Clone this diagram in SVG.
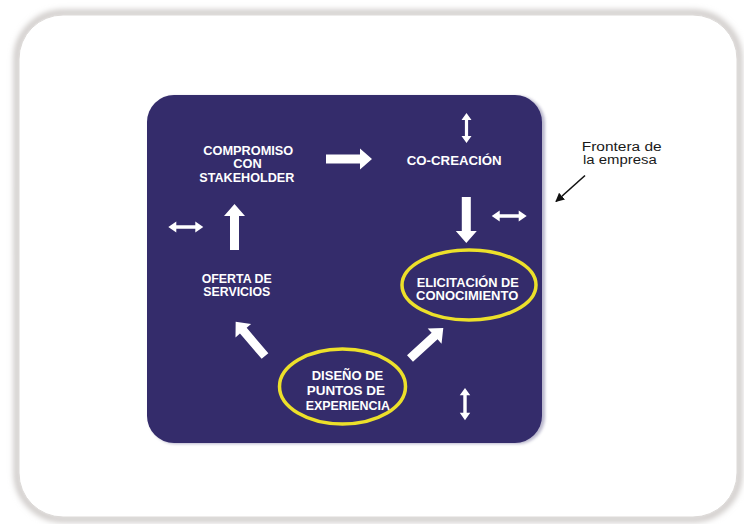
<svg xmlns="http://www.w3.org/2000/svg" xmlns:xlink="http://www.w3.org/1999/xlink" width="744" height="524" viewBox="0 0 744 524">
  <defs>
    <style>
      .lbl { font-family: "Liberation Sans", Arial, sans-serif; font-weight: 700; fill: #ffffff; }
      .note { font-family: "Liberation Sans", Arial, sans-serif; font-weight: 400; fill: #1a1a1a; }
      .ring { fill: none; stroke: #ece02a; stroke-width: 3.5; }
      .wa { fill: #ffffff; }
    </style>
    <filter id="soft" x="-10%" y="-10%" width="120%" height="120%">
      <feGaussianBlur stdDeviation="3"/>
    </filter>
    <filter id="soft2" x="-10%" y="-10%" width="120%" height="120%">
      <feGaussianBlur stdDeviation="1.5"/>
    </filter>
    <path id="thick" d="M0,-4.5 H34 V-10.5 L46,0 L34,10.5 V4.5 H0 Z"/>
    <path id="dbl" d="M0,0 L8,-5.5 V-1.8 H27 V-5.5 L35,0 L27,5.5 V1.8 H8 V5.5 Z"/>
    <path id="dbl30" d="M0,0 L7,-5 V-1.6 H23 V-5 L30,0 L23,5 V1.6 H7 V5 Z"/>
    <marker id="blk" viewBox="0 0 10 10" refX="9" refY="5" markerWidth="9" markerHeight="9" markerUnits="userSpaceOnUse" orient="auto">
      <path d="M0,0 L10,5 L0,10 Z" fill="#111111"/>
    </marker>
  </defs>

  <rect x="0" y="0" width="744" height="524" fill="#ffffff"/>

  <!-- outer frame -->
  <g id="frame">
    <rect x="17" y="13" width="722" height="506" rx="46" fill="none" stroke="#bdb8b5" stroke-width="5" filter="url(#soft)"/>
    <rect x="19" y="15" width="718" height="502" rx="44" fill="#ffffff" stroke="#dcd9d7" stroke-width="1"/>
  </g>

  <!-- company boundary -->
  <g id="boundary">
    <rect x="149" y="96" width="396" height="348" rx="27" fill="#8a86aa" opacity="0.6" filter="url(#soft2)"/>
    <rect x="147" y="95" width="395" height="348" rx="27" fill="#342c6b"/>
  </g>

  <g id="compromiso">
    <text class="lbl" font-size="13"><tspan x="203.3" y="154.5" textLength="90" lengthAdjust="spacingAndGlyphs">COMPROMISO</tspan><tspan x="233.3" y="168" textLength="28.4" lengthAdjust="spacingAndGlyphs">CON</tspan><tspan x="199.3" y="181.8" textLength="95" lengthAdjust="spacingAndGlyphs">STAKEHOLDER</tspan></text>
  </g>

  <g id="cocreacion">
    <text class="lbl" font-size="13.5" x="406.7" y="165" textLength="95" lengthAdjust="spacingAndGlyphs">CO-CREACIÓN</text>
  </g>

  <g id="oferta">
    <text class="lbl" font-size="13"><tspan x="201.7" y="282.5" textLength="70" lengthAdjust="spacingAndGlyphs">OFERTA DE</tspan><tspan x="203.3" y="296.3" textLength="67" lengthAdjust="spacingAndGlyphs">SERVICIOS</tspan></text>
  </g>

  <g id="elicitacion">
    <ellipse class="ring" cx="469" cy="285" rx="67" ry="35"/>
    <text class="lbl" font-size="13"><tspan x="416.7" y="286.5" textLength="102" lengthAdjust="spacingAndGlyphs">ELICITACIÓN DE</tspan><tspan x="416" y="300.3" textLength="102.3" lengthAdjust="spacingAndGlyphs">CONOCIMIENTO</tspan></text>
  </g>

  <g id="diseno">
    <ellipse class="ring" cx="342.5" cy="386.5" rx="63" ry="37.5"/>
    <text class="lbl" font-size="13.4"><tspan x="311.7" y="380" textLength="71.6" lengthAdjust="spacingAndGlyphs">DISEÑO DE</tspan><tspan x="306.7" y="395" textLength="78.3" lengthAdjust="spacingAndGlyphs">PUNTOS DE</tspan><tspan x="305.7" y="410" textLength="84.3" lengthAdjust="spacingAndGlyphs">EXPERIENCIA</tspan></text>
  </g>

  <g id="frontera">
    <text class="note" font-size="12"><tspan x="581.7" y="150.5" textLength="80" lengthAdjust="spacingAndGlyphs">Frontera de</tspan><tspan x="583" y="163.5" textLength="73.7" lengthAdjust="spacingAndGlyphs">la empresa</tspan></text>
  </g>

  <g id="connectors">
    <!-- flow arrows -->
    <use href="#thick" class="wa" transform="translate(326,159)"/>
    <use href="#thick" class="wa" transform="translate(466.3,197) rotate(90)"/>
    <use href="#thick" class="wa" transform="translate(234.5,250) rotate(-90)"/>
    <use href="#thick" class="wa" transform="translate(265,356) rotate(-130.6) scale(0.98)"/>
    <use href="#thick" class="wa" transform="translate(410,358.5) rotate(-42.4) scale(0.98)"/>
    <!-- boundary exchange arrows -->
    <use href="#dbl" class="wa" transform="translate(168.3,227)"/>
    <use href="#dbl" class="wa" transform="translate(491.7,216)"/>
    <use href="#dbl30" class="wa" transform="translate(466.5,113) rotate(90)"/>
    <use href="#dbl" class="wa" transform="translate(465,388) rotate(90) scale(0.92 0.95)"/>
    <!-- annotation pointer -->
    <line x1="585" y1="175.5" x2="556" y2="201.5" stroke="#111111" stroke-width="1.6" marker-end="url(#blk)"/>
  </g>
</svg>
